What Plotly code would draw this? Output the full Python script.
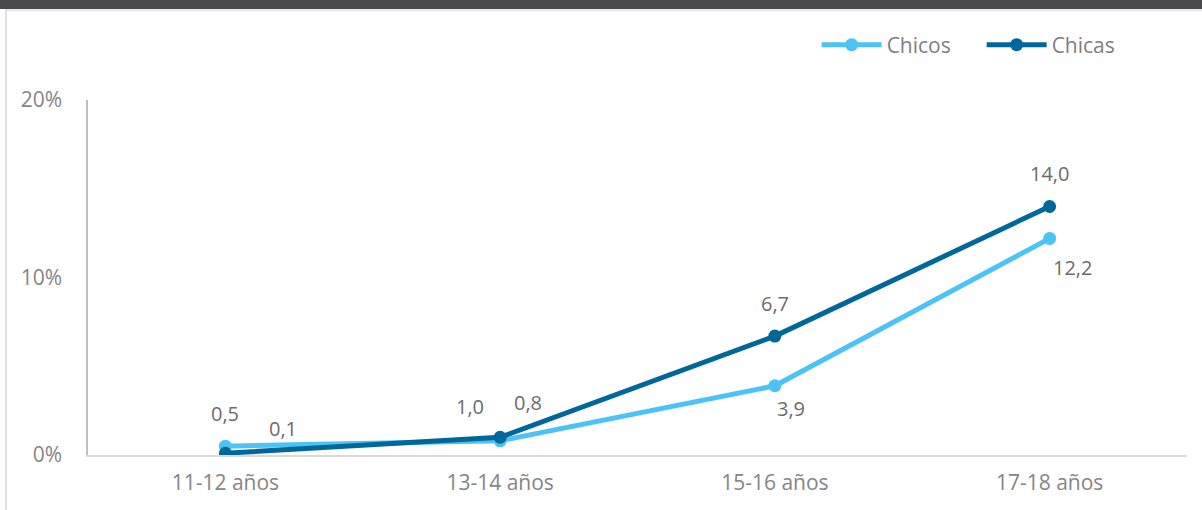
import plotly.graph_objects as go

categories = ['11-12 años', '13-14 años', '15-16 años', '17-18 años']
chicos = [0.5, 0.8, 3.9, 12.2]
chicas = [0.1, 1.0, 6.7, 14.0]
y_ticks = [0, 10, 20]
y_tick_labels = ['0%', '10%', '20%']

# label offsets (px)
chicos_shift = [(0, 33), (28, 38), (16, -23), (23, -29)]
chicas_shift = [(58, 25), (-30, 31), (0, 33), (0, 33)]

light = '#4cc3f7'
dark = '#00679a'
grey = '#858585'
label_grey = '#6c6c6c'

fig = go.Figure()
fig.add_trace(go.Scatter(x=categories, y=chicos, name='Chicos', mode='lines+markers',
                         line=dict(color=light, width=5),
                         marker=dict(color=light, size=13)))
fig.add_trace(go.Scatter(x=categories, y=chicas, name='Chicas', mode='lines+markers',
                         line=dict(color=dark, width=5),
                         marker=dict(color=dark, size=13)))

for vals, shifts in ((chicos, chicos_shift), (chicas, chicas_shift)):
    for c, v, (dx, dy) in zip(categories, vals, shifts):
        fig.add_annotation(x=c, y=v, text=f'{v:.1f}'.replace('.', ','),
                           showarrow=False, xshift=dx, yshift=dy,
                           font=dict(size=20, color=label_grey))

# dark band and frame
fig.add_shape(type='rect', xref='paper', yref='paper', x0=-0.09, x1=1.02,
              y0=1.256, y1=1.29, fillcolor='#4a4a4c', line_width=0, layer='above')
fig.add_shape(type='line', xref='paper', yref='paper', x0=-0.0746, x1=1.02,
              y0=1.253, y1=1.253, line=dict(color='#e3e3e3', width=2), layer='above')
fig.add_shape(type='line', xref='paper', yref='paper', x0=-0.0746, x1=-0.0746,
              y0=-0.16, y1=1.256, line=dict(color='#e0e0e0', width=2), layer='above')

fig.update_layout(
    width=1202, height=510,
    margin=dict(l=88, r=15, t=100, b=55, autoexpand=False),
    plot_bgcolor='white', paper_bgcolor='white',
    font=dict(family='Open Sans, sans-serif', size=21, color=grey),
    showlegend=True,
    legend=dict(orientation='h', x=0.663, xanchor='left', y=1.155, yanchor='middle',
                font=dict(size=21, color='#7f7f7f'), itemwidth=60, entrywidth=90,
                bgcolor='rgba(0,0,0,0)'),
    xaxis=dict(range=[-0.5, 3.5], showgrid=False, showline=True, linecolor='#d9d9d9',
               linewidth=2, ticks='', tickfont=dict(size=21, color=grey),
               zeroline=False, ticklabelstandoff=8),
    yaxis=dict(range=[0, 20], tickvals=y_ticks, ticktext=y_tick_labels,
               showgrid=False, showline=True, linecolor='#bfbfbf', linewidth=1.5,
               zeroline=False, ticks='', ticklabelstandoff=20,
               tickfont=dict(size=21, color=grey)),
)

fig.write_html('out.html', config={'displayModeBar': False},
               post_script="document.body.style.margin='0';")
